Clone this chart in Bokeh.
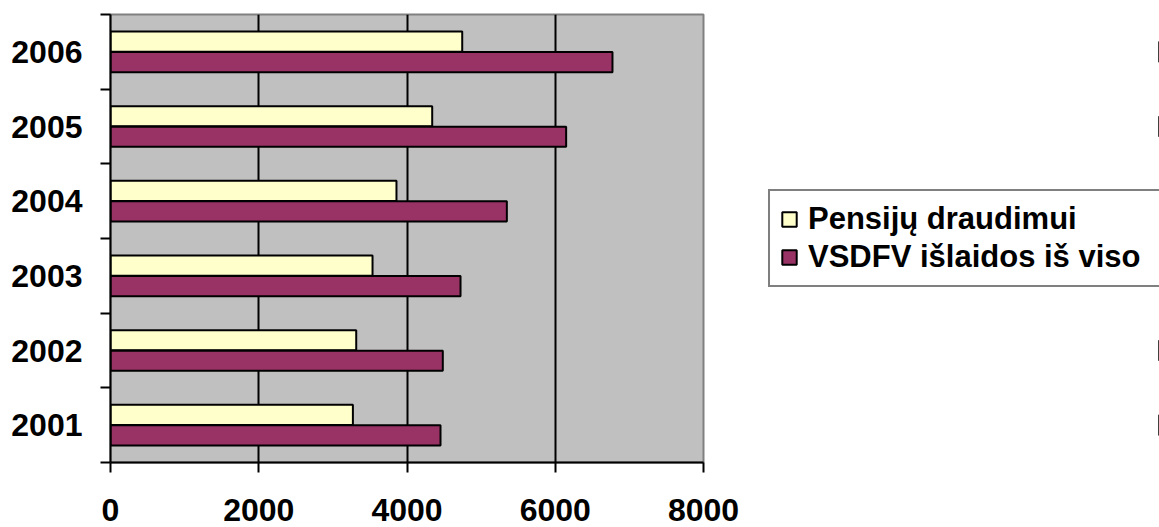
from bokeh.plotting import figure
from bokeh.layouts import row
from bokeh.models import (ColumnDataSource, FactorRange, Range1d, LinearAxis,
                          FixedTicker, Legend, LegendItem)
from bokeh.transform import dodge
from bokeh.embed import file_html
from bokeh.resources import INLINE

years = ["2001", "2002", "2003", "2004", "2005", "2006"]
pensiju = [3270, 3315, 3535, 3858, 4340, 4745]
vsdfv = [4452, 4483, 4722, 5347, 6147, 6772]
x_ticks = [0, 2000, 4000, 6000, 8000]
series_names = ["Pensijų draudimui", "VSDFV išlaidos iš viso"]

FONT = "Liberation Sans"
YELLOW = "#FFFFCC"
PURPLE = "#993366"

src = ColumnDataSource(dict(year=years, pens=pensiju, vsdfv=vsdfv))

p = figure(width=743, height=527, output_backend="svg", toolbar_location=None,
           y_range=FactorRange(factors=years, range_padding=0),
           x_range=Range1d(0, 8000),
           x_axis_location=None, y_axis_location=None,
           min_border_left=110, min_border_right=40, min_border_top=14, min_border_bottom=65)
p.background_fill_color = "#C0C0C0"
p.border_fill_color = "white"
p.outline_line_color = "#808080"
p.outline_line_width = 2

# left axis: year labels at band centres, tick marks (minor) at band boundaries
n = len(years)
y_axis = LinearAxis(ticker=FixedTicker(ticks=[i + 0.5 for i in range(n)],
                                       minor_ticks=list(range(n + 1))))
y_axis.major_label_overrides = {i + 0.5: y for i, y in enumerate(years)}
y_axis.major_tick_out = 0
y_axis.major_tick_in = 0
y_axis.major_tick_line_color = None
y_axis.minor_tick_out = 10
y_axis.minor_tick_in = 0
y_axis.minor_tick_line_width = 2
y_axis.minor_tick_line_color = "black"
y_axis.axis_line_width = 2
y_axis.axis_line_color = "black"
y_axis.major_label_text_font = FONT
y_axis.major_label_text_font_style = "bold"
y_axis.major_label_text_font_size = "32px"
y_axis.major_label_text_color = "black"
y_axis.major_label_standoff = 18
p.add_layout(y_axis, "left")

# bottom axis
x_axis = LinearAxis(ticker=FixedTicker(ticks=x_ticks))
x_axis.major_tick_out = 10
x_axis.major_tick_in = 0
x_axis.minor_tick_line_color = None
x_axis.major_tick_line_width = 2
x_axis.axis_line_width = 2
x_axis.axis_line_color = "black"
x_axis.major_label_text_font = FONT
x_axis.major_label_text_font_style = "bold"
x_axis.major_label_text_font_size = "32px"
x_axis.major_label_text_color = "black"
x_axis.major_label_standoff = 26
p.add_layout(x_axis, "below")

p.xgrid.ticker = FixedTicker(ticks=[2000, 4000, 6000])
p.xgrid.grid_line_color = "black"
p.xgrid.grid_line_width = 2
p.ygrid.grid_line_color = None

p.hbar(y=dodge("year", 0.1375, range=p.y_range), right="pens", left=0, height=0.27,
       source=src, fill_color=YELLOW, line_color="black", line_width=2)
p.hbar(y=dodge("year", -0.1375, range=p.y_range), right="vsdfv", left=0, height=0.27,
       source=src, fill_color=PURPLE, line_color="black", line_width=2)

# legend panel: separate figure to the right; its bars lie far outside its view
lf = figure(width=416, height=527, output_backend="svg", toolbar_location=None,
            y_range=FactorRange(factors=years), x_range=Range1d(-100000, -99999),
            x_axis_location=None, y_axis_location=None,
            min_border_left=0, min_border_right=0, min_border_top=0, min_border_bottom=0)
lf.outline_line_color = None
lf.background_fill_color = "white"
lf.border_fill_color = "white"
lf.xgrid.grid_line_color = None
lf.ygrid.grid_line_color = None
l1 = lf.hbar(y="year", right="pens", left=0, height=0.27, source=src,
             fill_color=YELLOW, line_color="black", line_width=2)
l2 = lf.hbar(y="year", right="vsdfv", left=0, height=0.27, source=src,
             fill_color=PURPLE, line_color="black", line_width=2)

legend = Legend(items=[LegendItem(label=series_names[0], renderers=[l1]),
                       LegendItem(label=series_names[1], renderers=[l2])],
                location=(25, 175))
legend.label_text_font = FONT
legend.label_text_font_style = "bold"
legend.label_text_font_size = "31px"
legend.label_text_color = "black"
legend.glyph_width = 18
legend.glyph_height = 18
legend.label_standoff = 10
legend.label_width = 342
legend.padding = 10
legend.spacing = 2
legend.margin = 0
legend.border_line_color = "black"
legend.border_line_width = 2
legend.background_fill_color = "white"
legend.background_fill_alpha = 1
lf.add_layout(legend, "center")

layout = row(p, lf, spacing=0)
open("out.html", "w").write(file_html(layout, INLINE))
